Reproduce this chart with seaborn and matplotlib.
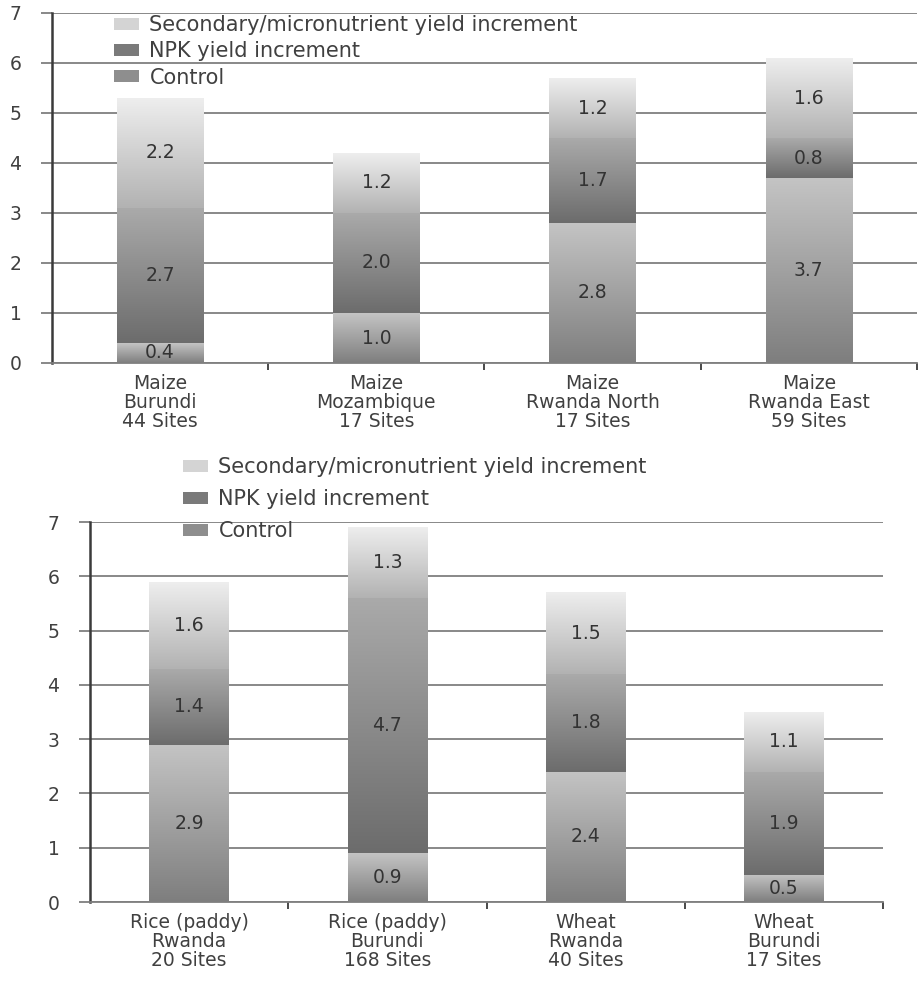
import numpy as np
import pandas as pd
import matplotlib
matplotlib.use("Agg")
import matplotlib.pyplot as plt
import seaborn as sns
from matplotlib.colors import LinearSegmentedColormap
from matplotlib.patches import Patch
from matplotlib.ticker import FixedLocator

# ---- data -------------------------------------------------------------
series_names = ["Control", "NPK yield increment",
                "Secondary/micronutrient yield increment"]

maize_sites = ["Maize\nBurundi\n44 Sites", "Maize\nMozambique\n17 Sites",
               "Maize\nRwanda North\n17 Sites", "Maize\nRwanda East\n59 Sites"]
maize_control = [0.4, 1.0, 2.8, 3.7]
maize_npk = [2.7, 2.0, 1.7, 0.8]
maize_secondary = [2.2, 1.2, 1.2, 1.6]

grain_sites = ["Rice (paddy)\nRwanda\n20 Sites", "Rice (paddy)\nBurundi\n168 Sites",
               "Wheat\nRwanda\n40 Sites", "Wheat\nBurundi\n17 Sites"]
grain_control = [2.9, 0.9, 2.4, 0.5]
grain_npk = [1.4, 4.7, 1.8, 1.9]
grain_secondary = [1.6, 1.3, 1.5, 1.1]

y_ticks = [0, 1, 2, 3, 4, 5, 6, 7]

# ---- style ------------------------------------------------------------
sns.set_theme(style="white")
plt.rcParams["font.family"] = ["DejaVu Sans"]
TEXT = "#404040"
GRID = "#7f7f7f"

flat_colors = ["#9a9a9a", "#858585", "#cfcfcf"]
gradients = [
    LinearSegmentedColormap.from_list("ctrl", ["#7e7e7e", "#c4c4c4"]),
    LinearSegmentedColormap.from_list("npk", ["#6c6c6c", "#aaaaaa"]),
    LinearSegmentedColormap.from_list("sec", ["#b2b2b2", "#eeeeee"]),
]
legend_colors = ["#8e8e8e", "#7a7a7a", "#d4d4d4"]
ramp = np.linspace(0, 1, 256).reshape(-1, 1)


def draw_panel(ax, sites, control, npk, secondary, legend_xy, spacing):
    df = pd.DataFrame({series_names[0]: control,
                       series_names[1]: npk,
                       series_names[2]: secondary})
    cum = df.cumsum(axis=1)
    cum["site"] = sites

    # stacked bars: draw cumulative totals from the top layer down
    layer_patches = {}
    for i in reversed(range(3)):
        n0 = len(ax.patches)
        sns.barplot(data=cum, x="site", y=series_names[i], color=flat_colors[i],
                    width=0.4, errorbar=None, ax=ax, zorder=2,
                    linewidth=0, saturation=1)
        layer_patches[i] = ax.patches[n0:]

    # shaded fill and value label for every segment
    for i in range(3):
        vals = df[series_names[i]].values
        for j, p in enumerate(layer_patches[i]):
            x0, w, top = p.get_x(), p.get_width(), p.get_height()
            low = layer_patches[i - 1][j].get_height() if i > 0 else 0.0
            ax.imshow(ramp, cmap=gradients[i], origin="lower", aspect="auto",
                      extent=(x0, x0 + w, low, top), zorder=3,
                      vmin=0, vmax=1, interpolation="bilinear")
            ax.text(x0 + w / 2, (low + top) / 2, f"{vals[j]:.1f}",
                    ha="center", va="center", fontsize=13.5,
                    color="#333333", zorder=4)

    ax.set_xlim(-0.5, 3.5)
    ax.set_ylim(0, 7)
    ax.set_xlabel("")
    ax.set_ylabel("")
    ax.yaxis.set_major_locator(FixedLocator(y_ticks))
    ax.yaxis.grid(True, color=GRID, linewidth=1.3, zorder=0)
    ax.set_axisbelow(True)
    for side in ("top", "right"):
        ax.spines[side].set_visible(False)
    ax.spines["left"].set_color("#3a3a3a")
    ax.spines["left"].set_linewidth(1.8)
    ax.spines["bottom"].set_color(GRID)
    ax.spines["bottom"].set_linewidth(1.3)

    ax.tick_params(axis="y", which="major", length=8, width=1.3, color=GRID,
                   direction="out", pad=14, labelsize=13.5, labelcolor=TEXT,
                   left=True)
    ax.tick_params(axis="x", which="major", length=0, pad=8,
                   labelsize=13.5, labelcolor=TEXT)
    ax.xaxis.set_minor_locator(FixedLocator([0.5, 1.5, 2.5, 3.5]))
    ax.tick_params(axis="x", which="minor", length=5, width=1.3,
                   color="#3a3a3a", direction="out", bottom=True)
    for lbl in ax.get_xticklabels():
        lbl.set_linespacing(1.0)

    handles = [Patch(facecolor=legend_colors[k], edgecolor="none")
               for k in (2, 1, 0)]
    labels = [series_names[k] for k in (2, 1, 0)]
    ax.legend(handles, labels, loc="upper left",
              bbox_to_anchor=legend_xy, bbox_transform=ax.figure.transFigure,
              frameon=False, fontsize=15, labelcolor=TEXT,
              handlelength=1.2, handleheight=0.5, handletextpad=0.5,
              labelspacing=spacing, borderpad=0, borderaxespad=0)


fig = plt.figure(figsize=(9.18, 9.84), dpi=100)
W, H = 918, 984
ax_top = fig.add_axes([52 / W, 1 - 363 / H, (917 - 52) / W, (363 - 13) / H])
ax_bot = fig.add_axes([90 / W, 1 - 902 / H, (883 - 90) / W, (902 - 522) / H])

draw_panel(ax_top, maize_sites, maize_control, maize_npk, maize_secondary,
           (114 / W, 1 - 15 / H), 0.3)
draw_panel(ax_bot, grain_sites, grain_control, grain_npk, grain_secondary,
           (183 / W, 1 - 457 / H), 0.58)

fig.savefig("out.png", dpi=100, facecolor="white")
